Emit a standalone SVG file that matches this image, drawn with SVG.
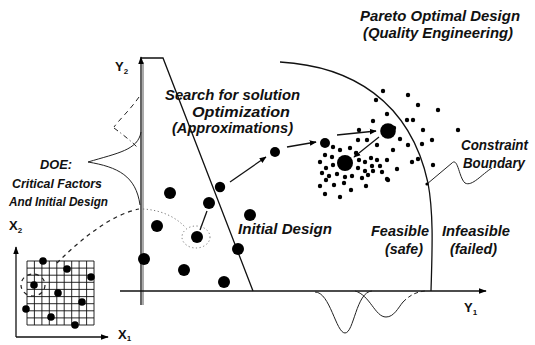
<svg xmlns="http://www.w3.org/2000/svg" width="535" height="345" viewBox="0 0 535 345">
  <style>
    .lbl { font-family: "Liberation Sans", Arial, sans-serif; font-weight: bold; font-style: italic; font-size: 14px; fill: #111; }
    .doe { font-size: 13px; }
    .ax { font-family: "Liberation Sans", Arial, sans-serif; font-weight: bold; font-size: 13px; fill: #111; }
    .sub { font-size: 8px; }
    .line { fill: none; stroke: #111; stroke-width: 1.3; }
    .thin { fill: none; stroke: #222; stroke-width: 1; }
    .dash { fill: none; stroke: #222; stroke-width: 1.2; stroke-dasharray: 4 4; }
    .dot1 { fill: none; stroke: #777; stroke-width: 1; stroke-dasharray: 1.2 2.5; }
    .big { fill: #000; }
    .sm { fill: #000; }
    .grid { fill: none; stroke: #111; stroke-width: 0.9; }
  </style>
  <defs>
    <marker id="arrow" viewBox="0 0 10 10" refX="9" refY="5" markerWidth="7" markerHeight="7" orient="auto" markerUnits="userSpaceOnUse">
      <path d="M0,1 L10,5 L0,9 z" fill="#000"/>
    </marker>
    <marker id="axhead" viewBox="0 0 10 10" refX="9" refY="5" markerWidth="8" markerHeight="8" orient="auto" markerUnits="userSpaceOnUse">
      <path d="M0,1.5 L10,5 L0,8.5 z" fill="#000"/>
    </marker>
  </defs>
  <rect width="535" height="345" fill="#fff"/>

  <!-- main objective axes -->
  <g id="axes">
    <line x1="143" y1="305" x2="143" y2="62" stroke="#aaa" stroke-width="2"/>
    <line class="line" x1="141" y1="305" x2="141" y2="57" marker-end="url(#axhead)"/>
    <line class="line" x1="120" y1="291" x2="486" y2="291" marker-end="url(#axhead)"/>
    <text class="ax" x="115" y="71">Y<tspan class="sub" dy="3">2</tspan></text>
    <text class="ax" x="464" y="312">Y<tspan class="sub" dy="3">1</tspan></text>
  </g>

  <!-- initial design region -->
  <g id="initial-region">
    <path class="line" d="M141,58 L163,58 L253,291"/>
  </g>

  <!-- Pareto front / feasibility boundary -->
  <g id="pareto-front">
    <path class="line" stroke-width="1.6" d="M280,62 C350,66 410,100 428,183 C434,215 432,255 431,291"/>
  </g>

  <!-- constraint boundary -->
  <g id="constraint-boundary">
    <path class="thin" stroke-width="1.2" d="M427,184 L452,163 C458,157 459,178 465,183 C472,187 482,174 492,168"/>
    <circle cx="427" cy="184" r="1.6" fill="#000"/>
  </g>

  <!-- response distributions along the axes -->
  <g id="distributions">
    <path class="thin" d="M141,132 C138,150 118,153 88,162 C118,167 136,176 140,205"/>
    <path class="thin" stroke-dasharray="5 4" d="M139,97 C130,110 119,120 114,127"/>
    <path class="thin" stroke-dasharray="5 3 1 3" d="M114,128 C122,134 130,140 137,147"/>
    <path class="thin" d="M315,292 C330,292 336,333 345,333 C354,333 356,292 372,291"/>
    <path class="thin" d="M355,291 C370,295 375,317 386,317 C394,317 398,308 403,302"/>
    <path class="thin" stroke-dasharray="4 3" d="M403,302 C410,295 416,292 425,291"/>
  </g>

  <!-- DOE inset: factor space X1/X2 with grid design -->
  <g id="doe-inset">
    <line class="line" x1="16" y1="337" x2="16" y2="247" marker-end="url(#axhead)"/>
    <line class="line" x1="16" y1="337" x2="108" y2="337" marker-end="url(#axhead)"/>
    <path class="grid" d="M27,261 H94 M27,268.1 H94 M27,275.2 H94 M27,282.3 H94 M27,289.4 H94 M27,296.6 H94 M27,303.7 H94 M27,310.8 H94 M27,317.9 H94 M27,325 H94
      M27,261 V325 M34.4,261 V325 M41.9,261 V325 M49.3,261 V325 M56.8,261 V325 M64.2,261 V325 M71.7,261 V325 M79.1,261 V325 M86.6,261 V325 M94,261 V325"/>
    <g class="big">
      <circle cx="43" cy="261" r="3.8"/>
      <circle cx="67" cy="269" r="3.8"/>
      <circle cx="91" cy="277" r="3.8"/>
      <circle cx="34" cy="285" r="3.8"/>
      <circle cx="58" cy="293" r="3.8"/>
      <circle cx="82" cy="302" r="3.8"/>
      <circle cx="26" cy="309" r="3.8"/>
      <circle cx="51" cy="317" r="3.8"/>
      <circle cx="75" cy="325" r="3.8"/>
    </g>
    <ellipse class="dash" stroke-dasharray="3 3" cx="33" cy="285" rx="12" ry="11"/>
    <text class="ax" x="9" y="230">X<tspan class="sub" dy="3">2</tspan></text>
    <text class="ax" x="118" y="339">X<tspan class="sub" dy="2">1</tspan></text>
  </g>

  <!-- initial design points -->
  <g id="design-points" class="big">
    <circle cx="170" cy="193" r="6"/>
    <circle cx="209" cy="203" r="6"/>
    <circle cx="220" cy="187" r="5.2"/>
    <circle cx="250" cy="215" r="6"/>
    <circle cx="157" cy="226" r="6"/>
    <circle cx="197" cy="237" r="6"/>
    <circle cx="238" cy="249" r="6"/>
    <circle cx="144" cy="259" r="6"/>
    <circle cx="184" cy="270" r="6"/>
    <circle cx="224" cy="282" r="6"/>
  </g>

  <!-- optimization path points -->
  <g id="search-points" class="big">
    <circle cx="275" cy="152" r="5"/>
    <circle cx="325" cy="143" r="5"/>
    <circle cx="388" cy="131" r="7.8"/>
    <circle cx="345" cy="163" r="8"/>
  </g>

  <!-- scatter of robust designs near the front -->
  <g id="cloud" class="sm">
    <circle cx="383" cy="91" r="2.2"/><circle cx="408" cy="95" r="2.2"/><circle cx="418" cy="105" r="2.2"/>
    <circle cx="438" cy="110" r="2.2"/><circle cx="376" cy="100" r="2.2"/><circle cx="407" cy="120" r="2.2"/>
    <circle cx="413" cy="120" r="2.2"/><circle cx="423" cy="130" r="2.2"/><circle cx="458" cy="130" r="2.2"/>
    <circle cx="432" cy="140" r="2.2"/><circle cx="422" cy="144" r="2.2"/><circle cx="433" cy="165" r="2.2"/>
    <circle cx="408" cy="145" r="2.2"/><circle cx="418" cy="159" r="2.2"/><circle cx="387" cy="114" r="2.2"/>
    <circle cx="373" cy="121" r="2.2"/><circle cx="359" cy="130" r="2.2"/><circle cx="367" cy="140" r="2.2"/>
    <circle cx="358" cy="140" r="2.2"/><circle cx="377" cy="145" r="2.2"/><circle cx="400" cy="139" r="2.2"/>
    <circle cx="393" cy="150" r="2.2"/><circle cx="387" cy="160" r="2.2"/><circle cx="397" cy="169" r="2.2"/>
    <circle cx="412" cy="162" r="2.2"/><circle cx="387" cy="179" r="2.2"/><circle cx="333" cy="147" r="2.2"/>
    <circle cx="340" cy="150" r="2.2"/><circle cx="350" cy="148" r="2.2"/><circle cx="356" cy="153" r="2.2"/>
    <circle cx="325" cy="155" r="2.2"/><circle cx="332" cy="157" r="2.2"/><circle cx="320" cy="162" r="2.2"/>
    <circle cx="326" cy="168" r="2.2"/><circle cx="333" cy="165" r="2.2"/><circle cx="359" cy="160" r="2.2"/>
    <circle cx="365" cy="162" r="2.2"/><circle cx="371" cy="158" r="2.2"/><circle cx="377" cy="160" r="2.2"/>
    <circle cx="372" cy="166" r="2.2"/><circle cx="380" cy="166" r="2.2"/><circle cx="358" cy="168" r="2.2"/>
    <circle cx="365" cy="171" r="2.2"/><circle cx="373" cy="171" r="2.2"/><circle cx="382" cy="172" r="2.2"/>
    <circle cx="322" cy="173" r="2.2"/><circle cx="329" cy="176" r="2.2"/><circle cx="337" cy="174" r="2.2"/>
    <circle cx="345" cy="177" r="2.2"/><circle cx="352" cy="176" r="2.2"/><circle cx="362" cy="178" r="2.2"/>
    <circle cx="368" cy="175" r="2.2"/><circle cx="326" cy="180" r="2.2"/><circle cx="334" cy="185" r="2.2"/>
    <circle cx="344" cy="183" r="2.2"/><circle cx="320" cy="186" r="2.2"/><circle cx="351" cy="190" r="2.2"/>
    <circle cx="325" cy="194" r="2.2"/><circle cx="340" cy="197" r="2.2"/><circle cx="388" cy="180" r="2.2"/>
    <circle cx="366" cy="186" r="2.2"/><circle cx="394" cy="128" r="2.2"/>
  </g>

  <!-- search path connectors -->
  <g id="connectors">
    <line class="line" stroke-width="1.6" x1="200" y1="230" x2="207" y2="211"/>
    <line class="line" stroke-width="1.6" x1="230" y1="182" x2="266" y2="157" marker-end="url(#arrow)"/>
    <line class="line" stroke-width="1.6" x1="287" y1="147" x2="316" y2="142" marker-end="url(#arrow)"/>
    <line class="line" stroke-width="1.6" x1="337" y1="135" x2="376" y2="131" marker-end="url(#arrow)"/>
    <line class="line" stroke-width="1.6" x1="379" y1="137" x2="354" y2="157" marker-end="url(#arrow)"/>
    <path class="dash" d="M57,263 C80,240 110,215 139,209"/>
    <path class="dot1" d="M143,209 C160,210 175,216 186,228"/>
    <ellipse class="dot1" cx="196" cy="237" rx="14" ry="11"/>
  </g>

  <!-- labels -->
  <g id="labels">
    <text class="lbl" x="360" y="21" textLength="160" lengthAdjust="spacingAndGlyphs">Pareto Optimal Design</text>
    <text class="lbl" x="363" y="38" textLength="150" lengthAdjust="spacingAndGlyphs">(Quality Engineering)</text>
    <text class="lbl" x="165" y="100" textLength="135" lengthAdjust="spacingAndGlyphs">Search for solution</text>
    <text class="lbl" x="192" y="117" textLength="98" lengthAdjust="spacingAndGlyphs">Optimization</text>
    <text class="lbl" x="172" y="133" textLength="121" lengthAdjust="spacingAndGlyphs">(Approximations)</text>
    <text class="lbl doe" x="40" y="169" textLength="32" lengthAdjust="spacingAndGlyphs">DOE:</text>
    <text class="lbl doe" x="12" y="188" textLength="90" lengthAdjust="spacingAndGlyphs">Critical Factors</text>
    <text class="lbl doe" x="9" y="206" textLength="99" lengthAdjust="spacingAndGlyphs">And Initial Design</text>
    <text class="lbl" x="238" y="234" textLength="94" lengthAdjust="spacingAndGlyphs">Initial Design</text>
    <text class="lbl" x="371" y="236" textLength="58" lengthAdjust="spacingAndGlyphs">Feasible</text>
    <text class="lbl" x="385" y="254" textLength="38" lengthAdjust="spacingAndGlyphs">(safe)</text>
    <text class="lbl" x="442" y="236" textLength="68" lengthAdjust="spacingAndGlyphs">Infeasible</text>
    <text class="lbl" x="450" y="254" textLength="47" lengthAdjust="spacingAndGlyphs">(failed)</text>
    <text class="lbl" x="461" y="150" textLength="67" lengthAdjust="spacingAndGlyphs">Constraint</text>
    <text class="lbl" x="463" y="168" textLength="62" lengthAdjust="spacingAndGlyphs">Boundary</text>
  </g>
</svg>
